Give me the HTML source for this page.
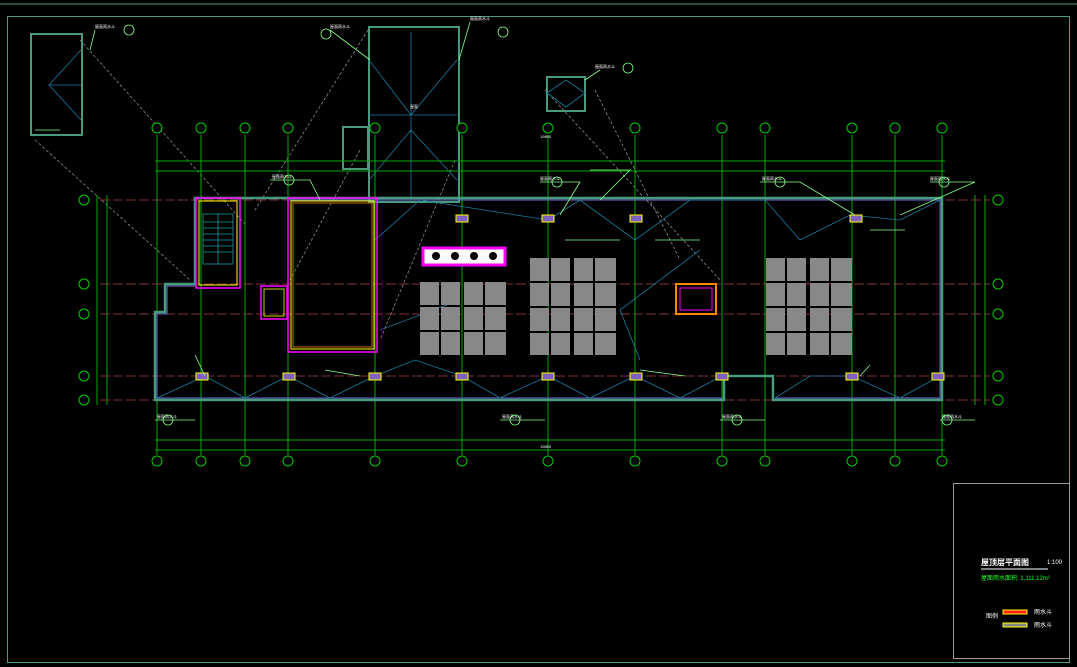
<!DOCTYPE html>
<html><head><meta charset="utf-8"><style>
html,body{margin:0;padding:0;background:#000;width:1077px;height:667px;overflow:hidden}
svg{display:block}
text{font-family:"Liberation Sans","Noto Sans CJK SC",sans-serif;fill:#fff}
</style></head><body>
<svg width="1077" height="667" viewBox="0 0 1077 667">
<rect width="1077" height="667" fill="#000"/>
<!-- frames -->
<line x1="0" y1="4" x2="1077" y2="4" stroke="#4a9a80" stroke-width="1"/>
<rect x="7.5" y="16.5" width="1062" height="646" fill="none" stroke="#4a9a80" stroke-width="1"/>
<!-- title block -->
<rect x="953.5" y="483.5" width="116" height="175" fill="none" stroke="#9a9a9a" stroke-width="1"/>
<text x="981" y="565" font-size="8" font-weight="bold">屋顶层平面图</text>
<text x="1047" y="564" font-size="6">1:100</text>
<line x1="981" y1="569" x2="1048" y2="569" stroke="#fff"/>
<text x="981" y="580" font-size="6" style="fill:#2f2">屋面雨水面积: 1,111.12m²</text>
<text x="986" y="618" font-size="6">图例</text>
<rect x="1003" y="610" width="24" height="4" fill="#f22" stroke="#ff0"/>
<rect x="1003" y="623" width="24" height="4" fill="#888" stroke="#ff0"/>
<text x="1034" y="614" font-size="6">雨水斗</text>
<text x="1034" y="627" font-size="6">雨水斗</text>

<!-- dashed leader lines -->
<g stroke="#888" stroke-width="0.8" stroke-dasharray="3,2" fill="none">
<line x1="80" y1="40" x2="245" y2="224"/>
<line x1="35" y1="140" x2="190" y2="280"/>
<line x1="368" y1="30" x2="255" y2="210"/>
<line x1="360" y1="150" x2="290" y2="280"/>
<line x1="455" y1="160" x2="380" y2="340"/>
<line x1="595" y1="90" x2="680" y2="260"/>
<line x1="545" y1="90" x2="720" y2="280"/>
</g>

<!-- detail boxes -->
<g fill="none" stroke="#4a9a80" stroke-width="2">
<rect x="31" y="34" width="51" height="101"/>
<rect x="369" y="27" width="90" height="175"/>
<rect x="547" y="77" width="38" height="34"/>
<rect x="343" y="127" width="25" height="42"/>
</g>
<g fill="none" stroke="#1a7aa0" stroke-width="0.8">
<path d="M81 50 L49 85 L81 120 M49 85 L81 85"/>
<path d="M369 60 L411 115 L457 60 M411 32 L411 198 M369 115 L457 115 M369 180 L411 130 L457 180"/>
<path d="M547 93 L566 80 L585 93 L566 107 Z"/>
</g>
<text x="410" y="108" font-size="4">屋面</text>

<!-- dimension lines -->
<g stroke="#0a0" stroke-width="1">
<line x1="155" y1="161" x2="945" y2="161"/>
<line x1="155" y1="171" x2="945" y2="171"/>
<line x1="155" y1="440" x2="945" y2="440"/>
<line x1="155" y1="450" x2="945" y2="450"/>
<line x1="107" y1="195" x2="107" y2="405"/>
<line x1="97" y1="195" x2="97" y2="405"/>
<line x1="975" y1="195" x2="975" y2="405"/>
<line x1="985" y1="195" x2="985" y2="405"/>
</g>
<!-- column grid -->
<g stroke="#0a0" stroke-width="1">
<line x1="157" y1="135" x2="157" y2="455"/><line x1="201" y1="135" x2="201" y2="455"/>
<line x1="245" y1="135" x2="245" y2="455"/><line x1="288" y1="135" x2="288" y2="455"/>
<line x1="375" y1="135" x2="375" y2="455"/><line x1="462" y1="135" x2="462" y2="455"/>
<line x1="548" y1="135" x2="548" y2="455"/><line x1="635" y1="135" x2="635" y2="455"/>
<line x1="722" y1="135" x2="722" y2="455"/><line x1="765" y1="135" x2="765" y2="455"/>
<line x1="852" y1="135" x2="852" y2="455"/><line x1="895" y1="135" x2="895" y2="455"/>
<line x1="942" y1="135" x2="942" y2="455"/>
</g>
<g stroke="#a44" stroke-width="0.8" stroke-dasharray="10,3">
<line x1="100" y1="200" x2="990" y2="200"/>
<line x1="100" y1="284" x2="990" y2="284"/>
<line x1="100" y1="314" x2="990" y2="314"/>
<line x1="100" y1="376" x2="990" y2="376"/>
<line x1="100" y1="400" x2="990" y2="400"/>
</g>
<!-- bubbles -->
<g fill="#000" stroke="#0c0" stroke-width="1">
<circle cx="157" cy="128" r="5"/><circle cx="201" cy="128" r="5"/><circle cx="245" cy="128" r="5"/><circle cx="288" cy="128" r="5"/><circle cx="375" cy="128" r="5"/><circle cx="462" cy="128" r="5"/><circle cx="548" cy="128" r="5"/><circle cx="635" cy="128" r="5"/><circle cx="722" cy="128" r="5"/><circle cx="765" cy="128" r="5"/><circle cx="852" cy="128" r="5"/><circle cx="895" cy="128" r="5"/><circle cx="942" cy="128" r="5"/>
<circle cx="157" cy="461" r="5"/><circle cx="201" cy="461" r="5"/><circle cx="245" cy="461" r="5"/><circle cx="288" cy="461" r="5"/><circle cx="375" cy="461" r="5"/><circle cx="462" cy="461" r="5"/><circle cx="548" cy="461" r="5"/><circle cx="635" cy="461" r="5"/><circle cx="722" cy="461" r="5"/><circle cx="765" cy="461" r="5"/><circle cx="852" cy="461" r="5"/><circle cx="895" cy="461" r="5"/><circle cx="942" cy="461" r="5"/>
<circle cx="84" cy="200" r="5"/><circle cx="84" cy="284" r="5"/><circle cx="84" cy="314" r="5"/><circle cx="84" cy="376" r="5"/><circle cx="84" cy="400" r="5"/>
<circle cx="998" cy="200" r="5"/><circle cx="998" cy="284" r="5"/><circle cx="998" cy="314" r="5"/><circle cx="998" cy="376" r="5"/><circle cx="998" cy="400" r="5"/>
</g>

<!-- building outline -->
<g fill="none" stroke="#4a9a80" stroke-width="2.5">
<path d="M155 400 L155 312 L165 312 L165 284 L195 284 L195 198 L942 198 L942 400 L773 400 L773 376 L724 376 L724 400 Z"/>
</g>
<g fill="none" stroke="#6a70d0" stroke-width="1">
<path d="M157 398 L157 314 L167 314 L167 286 L197 286 M288 200 L940 200 L940 398 L775 398 M722 398 L157 398"/>
</g>
<!-- blue slope lines -->
<g fill="none" stroke="#1a7aa0" stroke-width="0.8">
<path d="M375 240 L420 200 L548 220 L580 200 L635 240 L690 200 L765 200 L800 240 L850 215 L900 220 L940 200"/>
<path d="M157 398 L205 376 L245 398 L288 376 L330 398 L375 376 L415 360 L462 376 L500 398 L548 376 L590 398 L635 376 L680 398 L722 376 M775 398 L810 376 L852 376 L900 398 L940 376"/>
<path d="M700 250 L620 310 L640 360 M380 330 L460 300"/>
</g>

<!-- stair / core -->
<rect x="196" y="198" width="44" height="90" fill="none" stroke="#f0f" stroke-width="1.5"/>
<rect x="199" y="201" width="38" height="84" fill="none" stroke="#ff0" stroke-width="1"/>
<g stroke="#1a9aa0" stroke-width="0.8" fill="none">
<rect x="203" y="214" width="30" height="50"/>
<path d="M203 222 H233 M203 228 H233 M203 234 H233 M203 240 H233 M203 246 H233 M203 252 H233 M218 214 V264"/>
</g>
<rect x="288" y="198" width="89" height="154" fill="none" stroke="#f0f" stroke-width="1.5"/>
<rect x="291" y="201" width="83" height="148" fill="none" stroke="#ff0" stroke-width="1"/>
<rect x="293" y="203" width="79" height="144" fill="none" stroke="#f80" stroke-width="0.8"/>
<rect x="261" y="286" width="26" height="33" fill="none" stroke="#f0f" stroke-width="1.5"/>
<rect x="264" y="289" width="20" height="27" fill="none" stroke="#ff0" stroke-width="0.8"/>
<rect x="676" y="284" width="40" height="30" fill="none" stroke="#f80" stroke-width="2"/>
<rect x="680" y="288" width="32" height="22" fill="none" stroke="#f0f" stroke-width="1"/>

<!-- magenta beam -->
<rect x="423" y="248" width="82" height="17" fill="#fff" stroke="#f0f" stroke-width="3"/>
<g fill="#000"><circle cx="436" cy="256" r="4"/><circle cx="455" cy="256" r="4"/><circle cx="474" cy="256" r="4"/><circle cx="493" cy="256" r="4"/></g>

<!-- gray panels -->
<g fill="#888">
<rect x="420" y="282" width="19" height="23"/><rect x="441" y="282" width="19" height="23"/><rect x="464" y="282" width="19" height="23"/><rect x="485" y="282" width="21" height="23"/>
<rect x="420" y="307" width="19" height="23"/><rect x="441" y="307" width="19" height="23"/><rect x="464" y="307" width="19" height="23"/><rect x="485" y="307" width="21" height="23"/>
<rect x="420" y="332" width="19" height="23"/><rect x="441" y="332" width="19" height="23"/><rect x="464" y="332" width="19" height="23"/><rect x="485" y="332" width="21" height="23"/>
<rect x="530" y="258" width="19" height="23"/><rect x="551" y="258" width="19" height="23"/><rect x="574" y="258" width="19" height="23"/><rect x="595" y="258" width="21" height="23"/>
<rect x="530" y="283" width="19" height="23"/><rect x="551" y="283" width="19" height="23"/><rect x="574" y="283" width="19" height="23"/><rect x="595" y="283" width="21" height="23"/>
<rect x="530" y="308" width="19" height="23"/><rect x="551" y="308" width="19" height="23"/><rect x="574" y="308" width="19" height="23"/><rect x="595" y="308" width="21" height="23"/>
<rect x="530" y="333" width="19" height="22"/><rect x="551" y="333" width="19" height="22"/><rect x="574" y="333" width="19" height="22"/><rect x="595" y="333" width="21" height="22"/>
<rect x="766" y="258" width="19" height="23"/><rect x="787" y="258" width="19" height="23"/><rect x="810" y="258" width="19" height="23"/><rect x="831" y="258" width="21" height="23"/>
<rect x="766" y="283" width="19" height="23"/><rect x="787" y="283" width="19" height="23"/><rect x="810" y="283" width="19" height="23"/><rect x="831" y="283" width="21" height="23"/>
<rect x="766" y="308" width="19" height="23"/><rect x="787" y="308" width="19" height="23"/><rect x="810" y="308" width="19" height="23"/><rect x="831" y="308" width="21" height="23"/>
<rect x="766" y="333" width="19" height="22"/><rect x="787" y="333" width="19" height="22"/><rect x="810" y="333" width="19" height="22"/><rect x="831" y="333" width="21" height="22"/>
</g>

<!-- drains -->
<g fill="#8060c0" stroke="#ff0" stroke-width="1">
<rect x="456" y="215" width="12" height="7"/><rect x="542" y="215" width="12" height="7"/><rect x="630" y="215" width="12" height="7"/><rect x="850" y="215" width="12" height="7"/>
<rect x="196" y="373" width="12" height="7"/><rect x="283" y="373" width="12" height="7"/><rect x="369" y="373" width="12" height="7"/><rect x="456" y="373" width="12" height="7"/><rect x="542" y="373" width="12" height="7"/><rect x="630" y="373" width="12" height="7"/><rect x="716" y="373" width="12" height="7"/><rect x="846" y="373" width="12" height="7"/><rect x="932" y="373" width="12" height="7"/>
</g>

<!-- green label leaders & small texts -->
<g stroke="#8f8" stroke-width="0.8" fill="none">
<path d="M270 180 H310 L320 200 M540 182 H580 L560 215 M760 182 H800 L855 215 M930 182 H975 L900 215 M590 170 H630 L600 200 M155 420 H195 M500 420 H545 M720 420 H765 M940 420 H975 M195 355 L205 376 M325 370 L360 376 M640 370 L685 376 M870 365 L860 376 M870 230 L905 230 M655 240 L700 240 M565 240 L620 240"/>
<path d="M35 130 H60 M95 30 L90 50 M330 30 L370 60 M470 22 L459 60 M600 70 L585 80"/>
</g>
<g fill="#fff" font-size="4">
<text x="272" y="178">屋面雨水斗</text><text x="540" y="180">屋面雨水斗</text><text x="762" y="180">屋面雨水斗</text><text x="930" y="180">屋面雨水斗</text>
<text x="157" y="418">屋面雨水斗</text><text x="502" y="418">屋面雨水斗</text><text x="722" y="418">屋面雨水斗</text><text x="942" y="418">屋面雨水斗</text>
<text x="95" y="28">屋面雨水斗</text><text x="330" y="28">屋面雨水斗</text><text x="470" y="20">屋面雨水斗</text><text x="595" y="68">屋面雨水斗</text>
<text x="540" y="138">19800</text><text x="540" y="448">19800</text>
</g>
<g fill="none" stroke="#8f8" stroke-width="0.8">
<circle cx="289" cy="180" r="5"/><circle cx="557" cy="182" r="5"/><circle cx="780" cy="182" r="5"/><circle cx="944" cy="182" r="5"/>
<circle cx="168" cy="420" r="5"/><circle cx="515" cy="420" r="5"/><circle cx="737" cy="420" r="5"/><circle cx="947" cy="420" r="5"/>
<circle cx="129" cy="30" r="5"/><circle cx="326" cy="34" r="5"/><circle cx="503" cy="32" r="5"/><circle cx="628" cy="68" r="5"/>
</g>
</svg>
</body></html>
